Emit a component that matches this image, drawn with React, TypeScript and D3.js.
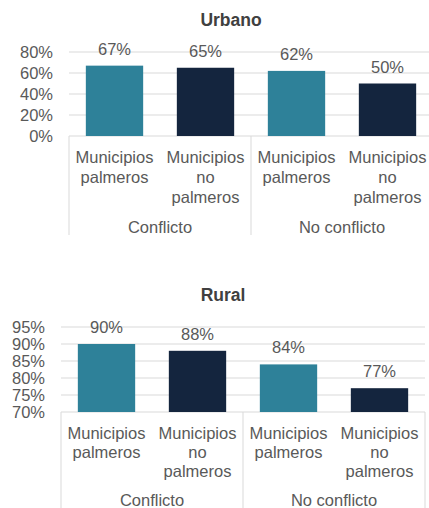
import * as d3 from "d3";
import { useMemo } from "react";

const W = 429;
const H = 508;
const FONT = "'Liberation Sans', Arial, Helvetica, sans-serif";
const TEXT = "#595959";
const GRID = "#d9d9d9";

const GROUPS = ["Conflicto", "No conflicto"];
const BARS = ["pc", "pn", "nc", "nn"];
const BAR_LABELS: string[][] = [
  ["Municipios", "palmeros"],
  ["Municipios", "no", "palmeros"],
  ["Municipios", "palmeros"],
  ["Municipios", "no", "palmeros"],
];
const BAR_COLORS = ["#2e8199", "#14253e", "#2e8199", "#14253e"];

const URBAN_VALUES = [0.67, 0.65, 0.62, 0.5];
const URBAN_TICKS = [0, 0.2, 0.4, 0.6, 0.8];
const RURAL_VALUES = [0.9, 0.88, 0.84, 0.77];
const RURAL_TICKS = [0.7, 0.75, 0.8, 0.85, 0.9, 0.95];

const BAND = 91;

interface PanelProps {
  title: string;
  titleX: number;
  titleY: number;
  left: number;
  top: number; // y of max tick
  bottom: number; // baseline
  values: number[];
  ticks: number[];
  lineH: number;
  groupDy: number;
  sepLen: number;
}

function Panel({ title, titleX, titleY, left, top, bottom, values, ticks, lineH, groupDy, sepLen }: PanelProps) {
  const right = left + BAND * BARS.length;
  const x = useMemo(
    () => d3.scaleBand<string>().domain(BARS).range([left, right]).paddingInner(0.37).paddingOuter(0.185),
    [left, right],
  );
  const y = useMemo(
    () => d3.scaleLinear().domain([ticks[0], ticks[ticks.length - 1]]).range([bottom, top]),
    [ticks, top, bottom],
  );
  const fmt = d3.format(".0%");

  return (
    <g fontFamily={FONT} fill={TEXT}>
      <text x={titleX} y={titleY} textAnchor="middle" fontWeight="bold" fontSize={17.5} fill="#404040">
        {title}
      </text>

      {/* grid + tick labels */}
      {ticks.map((t) => (
        <g key={t}>
          <line x1={left} x2={right} y1={y(t)} y2={y(t)} stroke={GRID} strokeWidth={1} />
          <text x={left - 16} y={y(t)} dy="0.35em" textAnchor="end" fontSize={16.5}>
            {fmt(t)}
          </text>
        </g>
      ))}

      {/* bars */}
      {BARS.map((b, i) => {
        const v = values[i];
        const bx = x(b) ?? 0;
        return (
          <g key={b}>
            <rect x={bx} y={y(v)} width={x.bandwidth()} height={bottom - y(v)} fill={BAR_COLORS[i]} />
            <text x={bx + x.bandwidth() / 2} y={y(v) - 11} textAnchor="middle" fontSize={16.5}>
              {fmt(v)}
            </text>
            {BAR_LABELS[i].map((line, li) => (
              <text
                key={li}
                x={bx + x.bandwidth() / 2}
                y={bottom + 21 + li * lineH}
                dy="0.35em"
                textAnchor="middle"
                fontSize={16.5}
              >
                {line}
              </text>
            ))}
          </g>
        );
      })}

      {/* group separators + labels */}
      {[0, 2, 4].map((k) => (
        <line
          key={k}
          x1={left + k * BAND}
          x2={left + k * BAND}
          y1={bottom}
          y2={bottom + sepLen}
          stroke={GRID}
          strokeWidth={1}
        />
      ))}
      {GROUPS.map((g, gi) => (
        <text
          key={g}
          x={left + (gi * 2 + 1) * BAND}
          y={bottom + groupDy}
          dy="0.35em"
          textAnchor="middle"
          fontSize={16.5}
        >
          {g}
        </text>
      ))}
    </g>
  );
}

export default function App() {
  return (
    <svg
      width={W}
      height={H}
      style={{ position: "absolute", left: 0, top: 0, background: "#fff" }}
    >
      <rect width={W} height={H} fill="#fff" />
      <Panel
        title="Urbano"
        titleX={231}
        titleY={26}
        left={69}
        top={52}
        bottom={136}
        values={URBAN_VALUES}
        ticks={URBAN_TICKS}
        lineH={20}
        groupDy={91}
        sepLen={99}
      />
      <Panel
        title="Rural"
        titleX={223}
        titleY={301}
        left={61}
        top={327}
        bottom={412}
        values={RURAL_VALUES}
        ticks={RURAL_TICKS}
        lineH={19}
        groupDy={88}
        sepLen={110}
      />
    </svg>
  );
}
